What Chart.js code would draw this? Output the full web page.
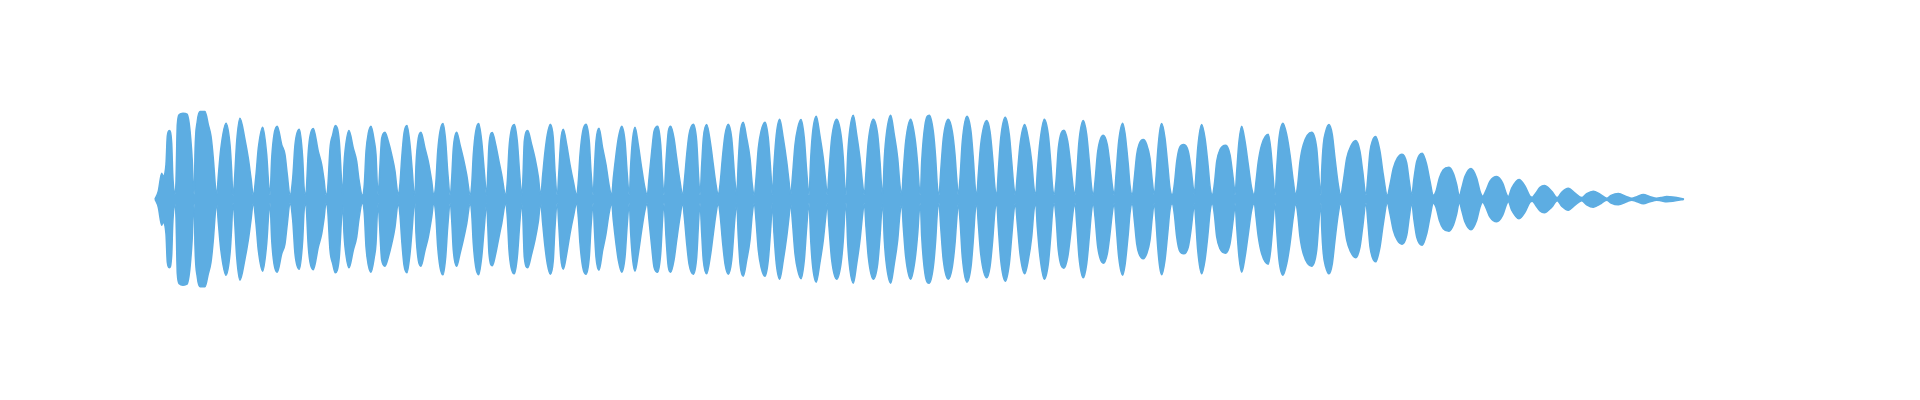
<!DOCTYPE html>
<html>
<head>
<meta charset="utf-8">
<title>Waveform</title>
<script src="https://cdn.jsdelivr.net/npm/chart.js@4/dist/chart.umd.min.js"></script>
<style>
  html, body { margin: 0; padding: 0; background: #ffffff; }
  #wrap { width: 1920px; height: 400px; }
</style>
</head>
<body>
<div id="wrap"><canvas id="waveChart" width="1920" height="400"></canvas></div>
<script>
// Tiempo de cada punto de la envolvente (ms)
const tiempoMs = [
  0, 33, 67, 80, 110, 123, 143, 167, 177, 190, 200,
  210, 223, 243, 280, 320, 340, 357, 373, 383, 393,
  400, 423, 450, 500, 533, 560, 583, 607, 617,
  633, 657, 710, 750, 767, 777, 783,
  793, 817, 850, 900, 933, 960, 983,
  1010, 1033, 1077, 1117, 1137, 1150,
  1167, 1190, 1223, 1267, 1300, 1323, 1350,
  1377, 1400, 1443, 1477, 1490, 1507,
  1533, 1550, 1583, 1633, 1667, 1690, 1710,
  1727, 1750, 1777, 1803, 1843, 1867, 1877,
  1890, 1900, 1940, 1983, 2017, 2040, 2073,
  2093, 2110, 2133, 2160, 2193, 2210, 2223, 2233,
  2243, 2267, 2300, 2333, 2367, 2400, 2423, 2433,
  2450, 2467, 2490, 2520, 2550, 2573, 2590, 2600,
  2610, 2633, 2660, 2700, 2733, 2767, 2787,
  2807, 2827, 2850, 2880, 2907, 2927, 2953,
  2967, 2983, 3017, 3050, 3083, 3117, 3153,
  3167, 3183, 3207, 3237, 3267, 3293, 3317,
  3327, 3340, 3373, 3407, 3440, 3467, 3507,
  3523, 3540, 3560, 3593, 3623, 3650, 3667,
  3677, 3693, 3727, 3767, 3800, 3833, 3857,
  3877, 3900, 3923, 3953, 3983, 4000, 4023,
  4037, 4057, 4083, 4117, 4150, 4183, 4217,
  4233, 4250, 4277, 4310, 4343, 4360, 4383,
  4393, 4410, 4440, 4477, 4510, 4540, 4567,
  4583, 4610, 4633, 4667, 4700, 4723, 4743,
  4757, 4777, 4800, 4833, 4867, 4900, 4923,
  4940, 4967, 4990, 5027, 5057, 5077, 5090,
  5110, 5133, 5157, 5190, 5217, 5250, 5277,
  5293, 5317, 5340, 5383, 5417, 5437, 5450,
  5467, 5483, 5517, 5557, 5583, 5610, 5633,
  5650, 5677, 5700, 5733, 5767, 5800, 5817,
  5833, 5850, 5883, 5917, 5950, 5973, 5993,
  6010, 6033, 6060, 6100, 6133, 6160, 6173,
  6190, 6213, 6247, 6283, 6317, 6340, 6357,
  6373, 6400, 6427, 6460, 6493, 6517, 6540,
  6557, 6577, 6613, 6650, 6683, 6707, 6723,
  6740, 6767, 6817, 6860, 6883, 6900, 6910,
  6927, 6950, 6983, 7017, 7050, 7077, 7093,
  7110, 7133, 7183, 7227, 7250, 7267, 7277,
  7293, 7317, 7357, 7393, 7427, 7450, 7467,
  7483, 7507, 7557, 7600, 7627, 7643, 7653,
  7667, 7700, 7743, 7783, 7807, 7823, 7840,
  7857, 7883, 7933, 7973, 8000, 8017, 8033,
  8050, 8073, 8120, 8160, 8183, 8203, 8217,
  8233, 8257, 8317, 8350, 8377, 8400, 8417,
  8433, 8457, 8503, 8543, 8567, 8590, 8603,
  8623, 8650, 8697, 8733, 8767, 8790, 8807,
  8823, 8850, 8893, 8933, 8957, 8977, 8990,
  9010, 9033, 9090, 9127, 9157, 9183, 9200,
  9217, 9240, 9283, 9317, 9343, 9367, 9383,
  9400, 9427, 9483, 9523, 9550, 9577, 9593,
  9610, 9637, 9677, 9700, 9717, 9733, 9750, 9773,
  9793, 9817, 9840, 9883, 9917, 9950, 9973, 9993,
  10007, 10027, 10047, 10067, 10100, 10127, 10150, 10173,
  10193, 10217, 10243, 10287, 10333, 10360, 10383, 10393,
  10407, 10427, 10467, 10500, 10527, 10553, 10573,
  10593, 10617, 10650, 10707, 10750, 10773, 10793, 10800,
  10817, 10840, 10867, 10900, 10933, 10967, 10993,
  11010, 11033, 11067, 11133, 11157, 11177, 11193, 11200,
  11217, 11240, 11280, 11317, 11350, 11383, 11407,
  11427, 11450, 11483, 11567, 11617, 11643, 11660,
  11667, 11683, 11707, 11740, 11773, 11800, 11833, 11857,
  11883, 11917, 11957, 12007, 12050, 12077, 12110,
  12127, 12150, 12173, 12207, 12250, 12283, 12323,
  12350, 12383, 12423, 12470, 12517, 12543, 12567,
  12590, 12617, 12673, 12717, 12750, 12783,
  12810, 12843, 12883, 12940, 12983, 13017, 13043,
  13067, 13100, 13160, 13217, 13250, 13277,
  13307, 13350, 13417, 13477, 13517, 13533,
  13567, 13640, 13700, 13750, 13773,
  13807, 13850, 13893, 13967, 14023,
  14067, 14133, 14200, 14267,
  14317, 14383, 14450, 14517,
  14560, 14633, 14717, 14767,
  14820, 14883, 14950, 15017,
  15060, 15117, 15267, 15290
];

// Amplitud de pico (escala normalizada, 1 = fondo de escala)
const amplitudPico = [
  0, 0.040, 0.130, 0.115, 0.175, 0.315, 0.343, 0.280, 0.130, 0.040, 0.025,
  0.090, 0.373, 0.423, 0.430, 0.425, 0.385, 0.305, 0.190, 0.065, 0.025,
  0.235, 0.390, 0.438, 0.438, 0.373, 0.315, 0.205, 0.048, 0.020,
  0.115, 0.248, 0.380, 0.273, 0.140, 0.030, 0.020,
  0.080, 0.290, 0.405, 0.298, 0.205, 0.105, 0.020,
  0.123, 0.255, 0.360, 0.223, 0.073, 0.020,
  0.205, 0.323, 0.365, 0.273, 0.223, 0.123, 0.020,
  0.105, 0.273, 0.350, 0.205, 0.065, 0.020,
  0.239, 0.315, 0.353, 0.239, 0.173, 0.098, 0.020,
  0.055, 0.255, 0.323, 0.368, 0.290, 0.080, 0.020,
  0.173, 0.239, 0.343, 0.255, 0.189, 0.098, 0.020,
  0.073, 0.239, 0.330, 0.365, 0.290, 0.223, 0.073, 0.020,
  0.105, 0.305, 0.335, 0.290, 0.223, 0.140, 0.040, 0.020,
  0.080, 0.205, 0.330, 0.368, 0.273, 0.140, 0.030, 0.020,
  0.173, 0.305, 0.335, 0.255, 0.189, 0.090, 0.020,
  0.073, 0.239, 0.339, 0.378, 0.290, 0.140, 0.020,
  0.105, 0.255, 0.335, 0.273, 0.205, 0.123, 0.020,
  0.073, 0.223, 0.339, 0.378, 0.290, 0.140, 0.020,
  0.123, 0.273, 0.333, 0.273, 0.189, 0.123, 0.020,
  0.089, 0.255, 0.339, 0.373, 0.290, 0.105, 0.020,
  0.073, 0.290, 0.343, 0.273, 0.205, 0.114, 0.020,
  0.123, 0.239, 0.323, 0.375, 0.305, 0.140, 0.020,
  0.123, 0.290, 0.350, 0.273, 0.173, 0.090, 0.020,
  0.089, 0.223, 0.339, 0.375, 0.290, 0.140, 0.020,
  0.140, 0.290, 0.355, 0.255, 0.173, 0.073, 0.020,
  0.105, 0.223, 0.305, 0.365, 0.290, 0.123, 0.020,
  0.173, 0.305, 0.360, 0.273, 0.155, 0.055, 0.020,
  0.105, 0.239, 0.339, 0.365, 0.273, 0.090, 0.020,
  0.189, 0.339, 0.365, 0.305, 0.205, 0.090, 0.020,
  0.089, 0.223, 0.323, 0.375, 0.290, 0.105, 0.020,
  0.173, 0.305, 0.373, 0.273, 0.173, 0.073, 0.020,
  0.073, 0.223, 0.323, 0.375, 0.305, 0.090, 0.020,
  0.189, 0.323, 0.385, 0.305, 0.205, 0.073, 0.020,
  0.105, 0.255, 0.339, 0.385, 0.305, 0.123, 0.020,
  0.173, 0.323, 0.400, 0.305, 0.189, 0.090, 0.020,
  0.105, 0.273, 0.355, 0.398, 0.305, 0.140, 0.020,
  0.205, 0.339, 0.415, 0.315, 0.205, 0.090, 0.020,
  0.140, 0.305, 0.400, 0.323, 0.205, 0.055, 0.020,
  0.223, 0.355, 0.420, 0.323, 0.205, 0.073, 0.020,
  0.140, 0.290, 0.400, 0.323, 0.189, 0.055, 0.020,
  0.205, 0.339, 0.420, 0.323, 0.205, 0.070, 0.020,
  0.140, 0.290, 0.400, 0.305, 0.173, 0.055, 0.020,
  0.189, 0.373, 0.420, 0.339, 0.205, 0.070, 0.020,
  0.140, 0.305, 0.400, 0.339, 0.223, 0.105, 0.020,
  0.105, 0.290, 0.415, 0.339, 0.205, 0.055, 0.020,
  0.123, 0.273, 0.393, 0.339, 0.205, 0.055, 0.020,
  0.140, 0.305, 0.410, 0.323, 0.189, 0.055, 0.020,
  0.123, 0.273, 0.373, 0.305, 0.189, 0.055, 0.020,
  0.140, 0.290, 0.400, 0.323, 0.189, 0.055, 0.020,
  0.089, 0.255, 0.345, 0.290, 0.173, 0.055, 0.020,
  0.123, 0.290, 0.393, 0.323, 0.189, 0.055, 0.020,
  0.089, 0.239, 0.320, 0.273, 0.173, 0.055, 0.020,
  0.123, 0.290, 0.380, 0.330, 0.255, 0.173, 0.070, 0.020,
  0.105, 0.223, 0.273, 0.298, 0.273, 0.205, 0.090, 0.020,
  0.089, 0.239, 0.339, 0.378, 0.305, 0.173, 0.055, 0.020,
  0.073, 0.189, 0.255, 0.273, 0.239, 0.155, 0.055, 0.020,
  0.105, 0.255, 0.373, 0.305, 0.189, 0.055, 0.020,
  0.073, 0.189, 0.248, 0.270, 0.223, 0.140, 0.055, 0.020,
  0.140, 0.290, 0.365, 0.290, 0.173, 0.055, 0.020,
  0.089, 0.189, 0.273, 0.325, 0.255, 0.140, 0.040, 0.020,
  0.155, 0.305, 0.380, 0.323, 0.223, 0.090, 0.020,
  0.073, 0.189, 0.273, 0.335, 0.255, 0.090, 0.020,
  0.140, 0.273, 0.339, 0.373, 0.323, 0.205, 0.073, 0.020,
  0.089, 0.205, 0.264, 0.293, 0.239, 0.140, 0.020,
  0.105, 0.239, 0.290, 0.313, 0.239, 0.123, 0.020,
  0.073, 0.155, 0.205, 0.225, 0.181, 0.089, 0.020,
  0.105, 0.189, 0.230, 0.173, 0.090, 0.020,
  0.040, 0.105, 0.148, 0.160, 0.130, 0.073, 0.015,
  0.055, 0.114, 0.153, 0.105, 0.040, 0.015,
  0.040, 0.090, 0.113, 0.080, 0.023, 0.013,
  0.055, 0.098, 0.065, 0.015, 0.010,
  0.030, 0.059, 0.068, 0.040, 0.008,
  0.035, 0.055, 0.030, 0.008,
  0.028, 0.040, 0.025, 0.005,
  0.019, 0.028, 0.013, 0.005,
  0.013, 0.023, 0.013, 0.005,
  0.008, 0.013, 0.003, 0
];

const colorOnda = 'rgb(93, 173, 226)';

// Envolvente superior e inferior (la onda es simétrica respecto a cero)
const superior = tiempoMs.map((t, i) => ({ x: t, y: amplitudPico[i] }));
const inferior = tiempoMs.map((t, i) => ({ x: t, y: -amplitudPico[i] }));

const canvas = document.getElementById('waveChart');

new Chart(canvas, {
    type: 'line',
    data: {
        datasets: [
            {
                label: 'max',
                data: superior,
                borderColor: colorOnda,
                backgroundColor: colorOnda,
                borderWidth: 1.5,
                pointRadius: 0,
                cubicInterpolationMode: 'monotone',
                fill: '+1'
            },
            {
                label: 'min',
                data: inferior,
                borderColor: colorOnda,
                backgroundColor: colorOnda,
                borderWidth: 1.5,
                pointRadius: 0,
                cubicInterpolationMode: 'monotone',
                fill: false
            }
        ]
    },
    options: {
        responsive: false,
        animation: false,
        devicePixelRatio: 1,
        layout: { padding: 0 },
        plugins: {
            legend: { display: false },
            tooltip: { enabled: false }
        },
        scales: {
            x: {
                type: 'linear',
                display: false,
                min: -1550,
                max: 17650
            },
            y: {
                display: false,
                min: -1.004,
                max: 0.996
            }
        }
    }
});
</script>
</body>
</html>
